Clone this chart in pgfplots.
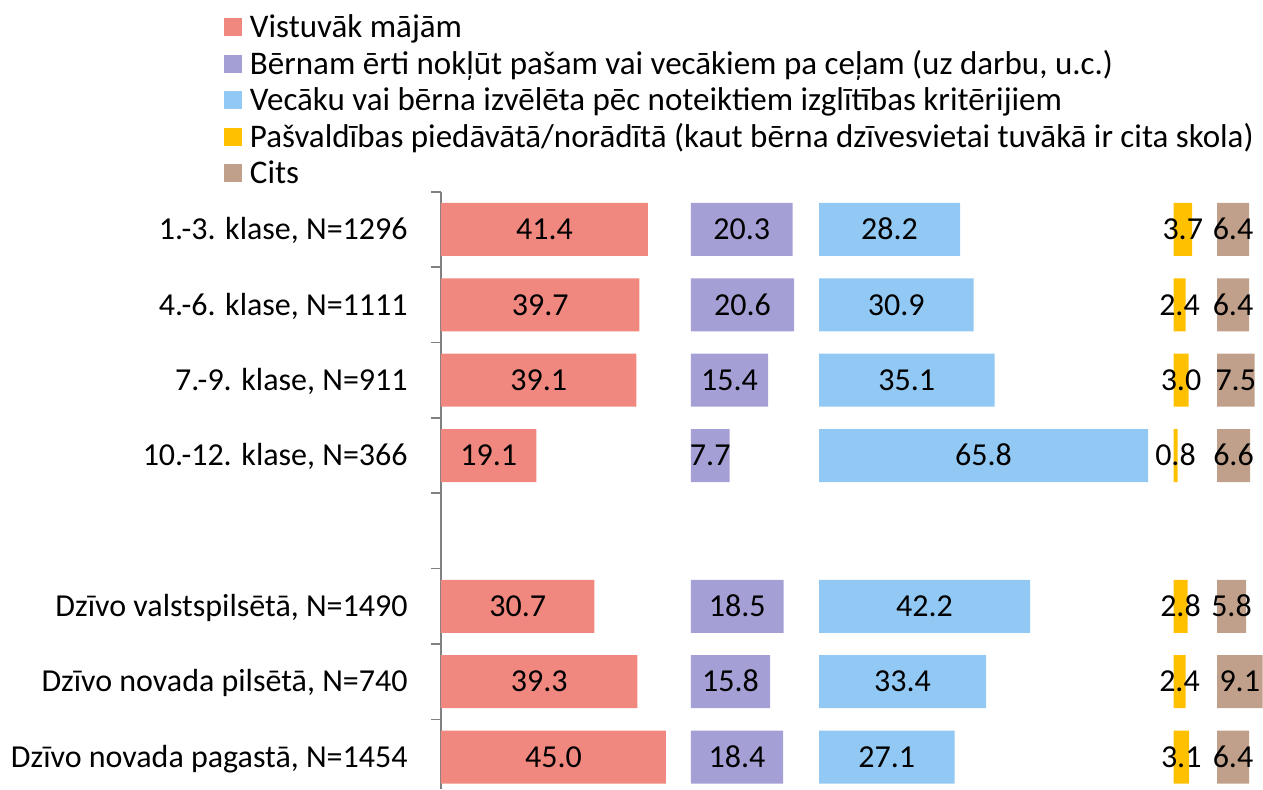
\documentclass[border=0pt]{standalone}
\usepackage{fontspec}
\setmainfont{Carlito}
\usepackage{pgfplots}
\usepackage{pgfplotstable}
\pgfplotsset{compat=1.18}
\definecolor{cred}{RGB}{240,136,128}
\definecolor{cpur}{RGB}{164,160,214}
\definecolor{cblu}{RGB}{146,201,244}
\definecolor{cylw}{RGB}{255,192,0}
\definecolor{cbrn}{RGB}{192,160,138}
\pgfplotstableread{
y r p b w c
0 41.4 20.3 28.2 3.7 6.4
1 39.7 20.6 30.9 2.4 6.4
2 39.1 15.4 35.1 3.0 7.5
3 19.1 7.7 65.8 0.8 6.6
5 30.7 18.5 42.2 2.8 5.8
6 39.3 15.8 33.4 2.4 9.1
7 45.0 18.4 27.1 3.1 6.4
}\data
\pgfplotsset{sqlegend/.style={legend image code/.code={\fill[##1, draw=none] (0pt,-3.4pt) rectangle (9pt,5.6pt);}}}
\begin{document}
\begin{tikzpicture}[font=\fontsize{16pt}{19pt}\selectfont]
\begin{axis}[
  scale only axis, width=411pt, height=298.6pt,
  xmin=0, xmax=164.4, ymin=-0.5, ymax=7.4244, y dir=reverse,
  xbar stacked, bar width=26.5pt,
  axis x line=none, axis y line*=left,
  y axis line style={draw=gray, line width=1pt},
  ytick={-0.5,0.5,...,6.5},
  yticklabels={{1.-3. klase, N=1296},{4.-6. klase, N=1111},{7.-9. klase, N=911},{10.-12. klase, N=366},{},{Dzīvo valstspilsētā, N=1490},{Dzīvo novada pilsētā, N=740},{Dzīvo novada pagastā, N=1454}},
  yticklabel style={anchor=east, inner sep=0pt, yshift=-18.84pt, xshift=-11.5pt, text height=10.3pt, text depth=0pt},
  tick align=outside, major tick length=5pt,
  ytick style={draw=gray, line width=0.75pt},
  clip=false,
  legend cell align=left,
  legend style={draw=none, fill=none, at={(-0.264,1.2983)}, anchor=north west, inner sep=0pt, outer sep=0pt, row sep=2.25pt, column sep=4pt, font=\fontsize{16.5pt}{19pt}\selectfont, nodes={inner sep=0pt, text height=12pt, text depth=4pt}},
]
\addplot[fill=cred, draw=none, sqlegend] table[x=r, y=y] \data;
\addlegendentry{Vistuvāk mājām}
\addplot[draw=none, fill=none, forget plot] table[x expr=50-\thisrow{r}, y=y] \data;
\addplot[fill=cpur, draw=none, sqlegend] table[x=p, y=y] \data;
\addlegendentry{Bērnam ērti nokļūt pašam vai vecākiem pa ceļam (uz darbu, u.c.)}
\addplot[draw=none, fill=none, forget plot] table[x expr=25.6-\thisrow{p}, y=y] \data;
\addplot[fill=cblu, draw=none, sqlegend] table[x=b, y=y] \data;
\addlegendentry{Vecāku vai bērna izvēlēta pēc noteiktiem izglītības kritērijiem}
\addplot[draw=none, fill=none, forget plot] table[x expr=70.9-\thisrow{b}, y=y] \data;
\addplot[fill=cylw, draw=none, sqlegend] table[x=w, y=y] \data;
\addlegendentry{Pašvaldības piedāvātā/norādītā (kaut bērna dzīvesvietai tuvākā ir cita skola)}
\addplot[draw=none, fill=none, forget plot] table[x expr=8.7-\thisrow{w}, y=y] \data;
\addplot[fill=cbrn, draw=none, sqlegend] table[x=c, y=y] \data;
\addlegendentry{Cits}
\end{axis}
\begin{axis}[
  scale only axis, width=411pt, height=298.6pt,
  xmin=0, xmax=164.4, ymin=-0.5, ymax=7.4244, y dir=reverse,
  hide axis, clip=false,
  nodes near coords, point meta=explicit symbolic,
  every node near coord/.append style={anchor=center, inner sep=0pt, text height=10.2pt, text depth=0pt, text=black},
]
\addplot[only marks, mark=*, mark size=0pt, mark options={draw=none,fill=none}] table[x expr=\thisrow{r}/2, y=y, meta=r] \data;
\addplot[only marks, mark=*, mark size=0pt, mark options={draw=none,fill=none}] table[x expr=50+\thisrow{p}/2, y=y, meta=p] \data;
\addplot[only marks, mark=*, mark size=0pt, mark options={draw=none,fill=none}] table[x expr=75.6+\thisrow{b}/2, y=y, meta=b] \data;
\addplot[only marks, mark=*, mark size=0pt, mark options={draw=none,fill=none}] table[x expr=146.5+\thisrow{w}/2, y=y, meta=w] \data;
\addplot[only marks, mark=*, mark size=0pt, mark options={draw=none,fill=none}] table[x expr=155.2+\thisrow{c}/2, y=y, meta=c] \data;
\end{axis}
\path (-220.5pt,0pt) rectangle (411pt,394.5pt);
\end{tikzpicture}
\end{document}
